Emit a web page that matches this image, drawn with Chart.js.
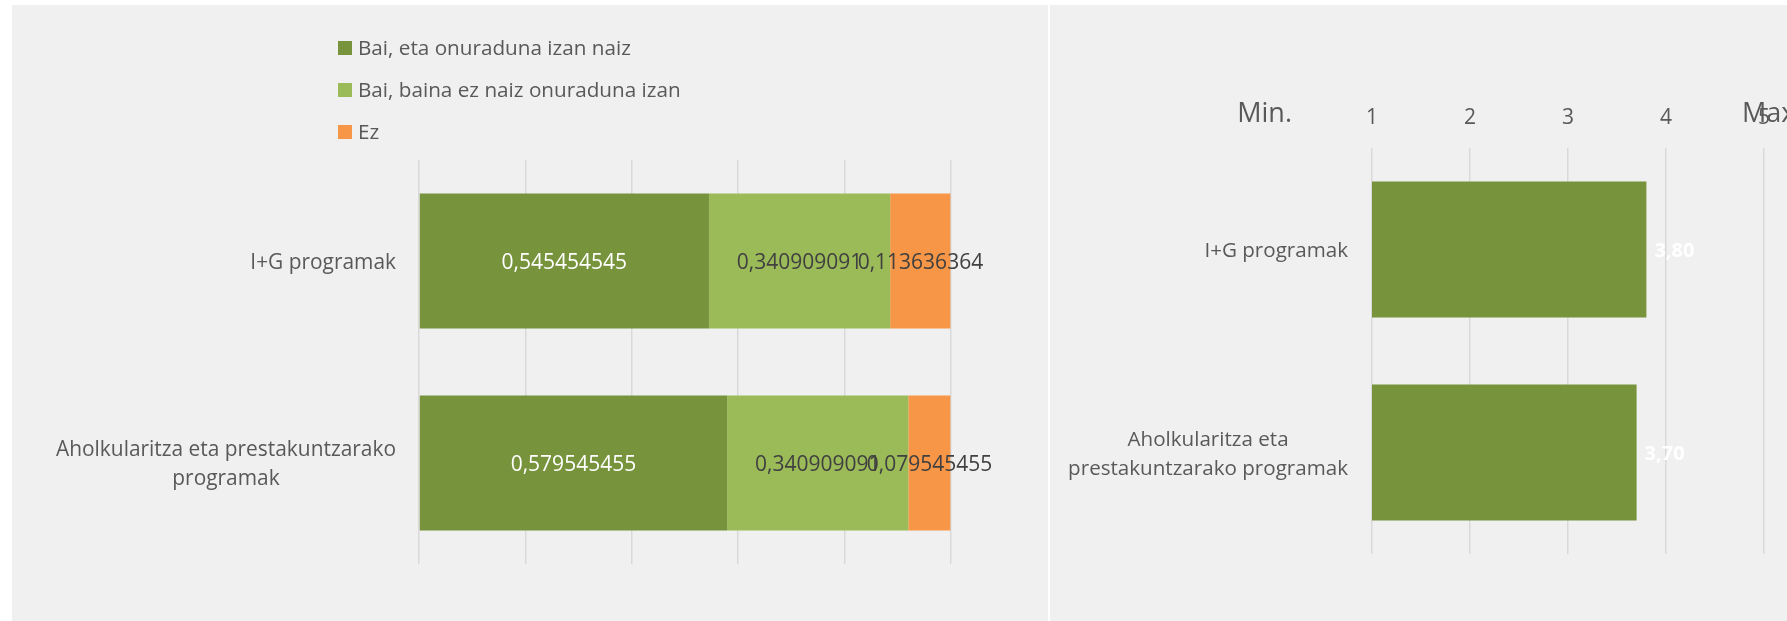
<!DOCTYPE html>
<html>
<head>
<meta charset="utf-8">
<script src="https://cdn.jsdelivr.net/npm/chart.js@4.4.1/dist/chart.umd.min.js"></script>
<style>
html,body{margin:0;padding:0;background:#ffffff;width:1787px;height:621px;overflow:hidden;}
.panel{position:absolute;background:#f0f0f0;overflow:hidden;}
#p1{left:12px;top:5px;width:1036px;height:616px;}
#p2{left:1050px;top:5px;width:737px;height:616px;}
canvas{display:block;}
</style>
</head>
<body>
<div class="panel" id="p1"><canvas id="c1" width="1036" height="616"></canvas></div>
<div class="panel" id="p2"><canvas id="c2" width="737" height="616"></canvas></div>
<script>
// ---- data ----
const categories = ['I+G programak', 'Aholkularitza eta prestakuntzarako programak'];
const leftCategoryLines = [['I+G programak'], ['Aholkularitza eta prestakuntzarako', 'programak']];
const rightCategoryLines = [['I+G programak'], ['Aholkularitza eta', 'prestakuntzarako programak']];
const seriesNames = ['Bai, eta onuraduna izan naiz', 'Bai, baina ez naiz onuraduna izan', 'Ez'];
const baiOnuraduna = [0.545454545, 0.579545455];
const baiEzOnuraduna = [0.340909091, 0.340909091];
const ez = [0.113636364, 0.079545455];
const meanScores = [3.80, 3.70];
const shareTicks = [0, 0.2, 0.4, 0.6, 0.8, 1];
const scoreTicks = [1, 2, 3, 4, 5];
const scaleEndLabels = ['Min.', 'Max'];

// ---- styles ----
const FONT = '"Open Sans", "DejaVu Sans", sans-serif';
const TEXT = '#595959';
const GRID = '#d9d9d9';
const C_DARK = '#77933c', C_LIGHT = '#9bbb59', C_ORANGE = '#f79646';
const TEXT_SHIFT = 2;

const yLabelPlugin = {
  id: 'yLabels',
  afterDraw(chart, args, o) {
    const ys = chart.scales.y, ctx = chart.ctx;
    ctx.save();
    ctx.font = o.size + 'px ' + FONT;
    ctx.fillStyle = TEXT; ctx.textAlign = 'center'; ctx.textBaseline = 'middle';
    chart.data.labels.forEach((lab, i) => {
      const lines = Array.isArray(lab) ? lab : [lab];
      const w = Math.max(...lines.map(l => ctx.measureText(l).width));
      const cx = o.right - w / 2;
      const cy = ys.getPixelForValue(i) + TEXT_SHIFT;
      const n = lines.length;
      lines.forEach((l, j) => ctx.fillText(l, cx, cy + (j - (n - 1) / 2) * o.lineHeight));
    });
    ctx.restore();
  }
};

const legendPlugin = {
  id: 'vlegend',
  afterDraw(chart, args, o) {
    if (!o || !o.show) return;
    const ctx = chart.ctx;
    ctx.save();
    ctx.font = o.size + 'px ' + FONT;
    ctx.textBaseline = 'middle'; ctx.textAlign = 'left';
    chart.data.datasets.forEach((ds, i) => {
      const cy = o.y + i * o.step;
      ctx.fillStyle = ds.backgroundColor;
      ctx.fillRect(o.x, cy - o.box / 2, o.box, o.box);
      ctx.fillStyle = TEXT;
      ctx.fillText(ds.label, o.x + o.box + 6, cy + 1.5);
    });
    ctx.restore();
  }
};

const dataLabelPlugin = {
  id: 'dlabels',
  afterDatasetsDraw(chart, args, o) {
    const ctx = chart.ctx;
    ctx.save();
    ctx.textBaseline = 'middle';
    chart.data.datasets.forEach((ds, di) => {
      const meta = chart.getDatasetMeta(di);
      meta.data.forEach((bar, i) => {
        const v = ds.data[i];
        if (o.mode === 'center') {
          ctx.font = o.size + 'px ' + FONT;
          ctx.textAlign = 'center';
          ctx.fillStyle = o.colors[di];
          ctx.fillText(String(v).replace('.', ','), (bar.base + bar.x) / 2, bar.y + TEXT_SHIFT);
        } else {
          ctx.font = 'bold ' + o.size + 'px ' + FONT;
          ctx.textAlign = 'left';
          ctx.fillStyle = o.colors[di];
          ctx.fillText(v.toFixed(2).replace('.', ','), bar.x + o.offset, bar.y + TEXT_SHIFT);
        }
      });
    });
    ctx.restore();
  }
};

const endLabelPlugin = {
  id: 'endLabels',
  afterDraw(chart, args, o) {
    if (!o || !o.show) return;
    const xs = chart.scales.x, ctx = chart.ctx;
    ctx.save();
    ctx.font = o.size + 'px ' + FONT;
    ctx.fillStyle = TEXT; ctx.textBaseline = 'middle';
    const y = chart.chartArea.top + o.dy;
    ctx.textAlign = 'right';
    ctx.fillText(scaleEndLabels[0], xs.getPixelForValue(scoreTicks[0]) + o.minDx, y);
    ctx.textAlign = 'left';
    ctx.fillText(scaleEndLabels[1], xs.getPixelForValue(scoreTicks[scoreTicks.length - 1]) + o.maxDx, y);
    ctx.restore();
  }
};

Chart.register(yLabelPlugin, legendPlugin, dataLabelPlugin, endLabelPlugin);

function build() {
  new Chart(document.getElementById('c1'), {
    type: 'bar',
    data: {
      labels: leftCategoryLines,
      datasets: [
        { label: seriesNames[0], data: baiOnuraduna, backgroundColor: C_DARK },
        { label: seriesNames[1], data: baiEzOnuraduna, backgroundColor: C_LIGHT },
        { label: seriesNames[2], data: ez, backgroundColor: C_ORANGE }
      ].map(d => Object.assign(d, { barPercentage: 0.668, categoryPercentage: 1, borderWidth: 0 }))
    },
    options: {
      indexAxis: 'y', responsive: false, animation: false,
      layout: { padding: { left: 0, top: 155, right: 97.4, bottom: 57 } },
      scales: {
        x: {
          stacked: true, min: shareTicks[0], max: shareTicks[shareTicks.length - 1],
          ticks: { display: false, stepSize: shareTicks[1] - shareTicks[0] },
          grid: { color: GRID, lineWidth: 1.5, drawTicks: false },
          border: { display: false },
          afterFit(s) { s.height = 0; }
        },
        y: {
          stacked: true,
          ticks: { display: false },
          grid: { display: false }, border: { display: false },
          afterFit(s) { s.width = 407; }
        }
      },
      plugins: {
        legend: { display: false }, tooltip: { enabled: false },
        yLabels: { right: 384, size: 20.9, lineHeight: 29 },
        vlegend: { show: true, x: 326, y: 43, step: 42, box: 14, size: 20.7 },
        dlabels: { mode: 'center', size: 21, colors: ['#ffffff', '#404040', '#404040'] }
      }
    }
  });

  new Chart(document.getElementById('c2'), {
    type: 'bar',
    data: {
      labels: rightCategoryLines,
      datasets: [
        { label: 'Batez bestekoa', data: meanScores, backgroundColor: C_DARK, borderWidth: 0,
          barPercentage: 0.67, categoryPercentage: 1 }
      ]
    },
    options: {
      indexAxis: 'y', responsive: false, animation: false,
      layout: { padding: { left: 0, top: 0, right: 23, bottom: 67 } },
      scales: {
        x: {
          position: 'top', min: scoreTicks[0], max: scoreTicks[scoreTicks.length - 1],
          ticks: { stepSize: 1, color: TEXT, font: { family: FONT, size: 21 }, padding: 17 },
          grid: { color: GRID, lineWidth: 1.5, drawTicks: false },
          border: { display: false },
          afterFit(s) { s.height = 143; }
        },
        y: {
          ticks: { display: false },
          grid: { display: false }, border: { display: false },
          afterFit(s) { s.width = 322; }
        }
      },
      plugins: {
        legend: { display: false }, tooltip: { enabled: false },
        yLabels: { right: 298, size: 20.6, lineHeight: 29 },
        dlabels: { mode: 'end', size: 20, offset: 8, colors: ['#ffffff'] },
        endLabels: { show: true, size: 27, dy: -34, minDx: -80, maxDx: -22 }
      }
    }
  });
}

Promise.all([
  document.fonts.load('20px "Open Sans"'),
  document.fonts.load('bold 20px "Open Sans"')
]).then(build, build);
</script>
</body>
</html>
